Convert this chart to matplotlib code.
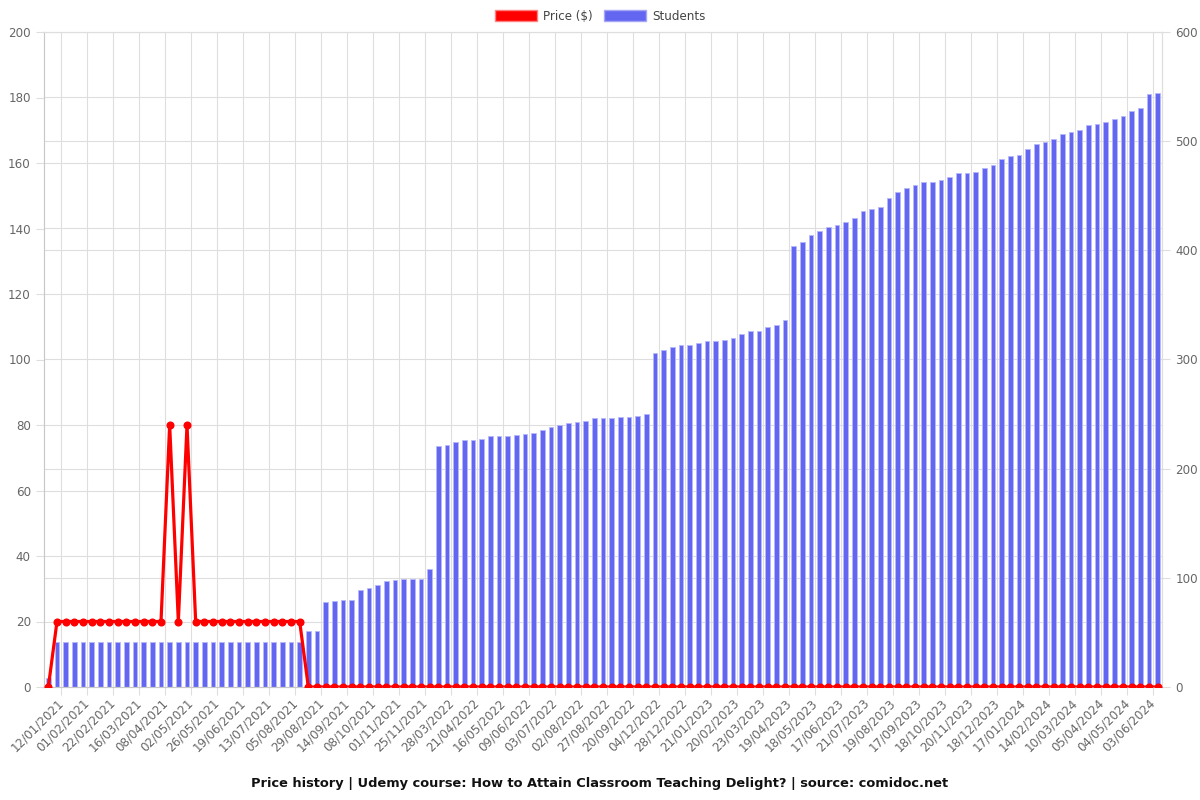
import numpy as np
import matplotlib
matplotlib.use("Agg")
import matplotlib.pyplot as plt
from matplotlib.patches import Patch

# one value per snapshot (129 of them)
students = [8,
            41, 41, 41, 41, 41, 41, 41, 41, 41, 41, 41, 41, 41, 41, 41,
            41, 41, 41, 41, 41, 41, 41, 41, 41, 41, 41, 41, 41, 41,
            51, 51,
            78, 79, 80, 80, 89, 91, 93, 97, 98, 99, 99, 99, 108,
            221, 222, 224, 226, 226, 227, 230, 230, 230, 231, 232, 233, 235,
            238, 240, 242, 243, 244, 246, 246, 246, 247, 247, 248, 250,
            306, 309, 311, 313, 313, 315, 317, 317, 318, 320, 323, 326, 326,
            330, 332, 336,
            404, 408, 414, 418, 421, 423, 426, 430, 436, 438,
            440, 448, 453, 457, 460, 463, 463, 464, 467, 471, 471, 472, 475,
            478, 484, 486, 487, 493, 497, 499, 502, 507, 508, 510, 515, 516,
            518, 520, 523, 528, 530, 543, 544]

price = [0,
         20, 20, 20, 20, 20, 20, 20, 20, 20, 20, 20, 20, 20,
         80, 20, 80,
         20, 20, 20, 20, 20, 20, 20, 20, 20, 20, 20, 20, 20,
         0, 0, 0, 0, 0, 0, 0, 0, 0, 0, 0, 0, 0, 0, 0, 0, 0, 0, 0, 0,
         0, 0, 0, 0, 0, 0, 0, 0, 0, 0, 0, 0, 0, 0, 0, 0, 0, 0, 0, 0,
         0, 0, 0, 0, 0, 0, 0, 0, 0, 0, 0, 0, 0, 0, 0, 0, 0, 0, 0, 0,
         0, 0, 0, 0, 0, 0, 0, 0, 0, 0, 0, 0, 0, 0, 0, 0, 0, 0, 0, 0,
         0, 0, 0, 0, 0, 0, 0, 0, 0, 0, 0, 0, 0, 0, 0, 0, 0, 0, 0]

# only every third date is shown on the axis
tick_labels = ["12/01/2021", "01/02/2021", "22/02/2021", "16/03/2021", "08/04/2021",
               "02/05/2021", "26/05/2021", "19/06/2021", "13/07/2021", "05/08/2021",
               "29/08/2021", "14/09/2021", "08/10/2021", "01/11/2021", "25/11/2021",
               "28/03/2022", "21/04/2022", "16/05/2022", "09/06/2022", "03/07/2022",
               "02/08/2022", "27/08/2022", "20/09/2022", "04/12/2022", "28/12/2022",
               "21/01/2023", "20/02/2023", "23/03/2023", "19/04/2023", "18/05/2023",
               "17/06/2023", "21/07/2023", "19/08/2023", "17/09/2023", "18/10/2023",
               "20/11/2023", "18/12/2023", "17/01/2024", "14/02/2024", "10/03/2024",
               "05/04/2024", "04/05/2024", "03/06/2024"]

title = "Price history | Udemy course: How to Attain Classroom Teaching Delight? | source: comidoc.net"

bar_col = "#6366f1"
line_col = "#ff0000"
grid_col = "#dedede"
txt_col = "#666666"

x = np.arange(len(students))

fig = plt.figure(figsize=(12, 8), dpi=100)
ax = fig.add_axes([44 / 1200, 1 - 687 / 800, 1118 / 1200, 655 / 800])
ax2 = ax.twinx()

# bars on the right (students) axis, below the price line
ax2.bar(x, students, width=0.55, color=bar_col, edgecolor="#b8b9fa", linewidth=0.6, zorder=2)
ax2.set_ylim(0, 600)
ax2.set_yticks(np.arange(0, 601, 100))
ax2.set_yticks(np.arange(0, 601, 60), minor=True)
ax2.set_axisbelow(True)
ax2.grid(True, which="both", axis="y", color=grid_col, linewidth=0.8)
ax2.tick_params(axis="y", which="major", colors=grid_col, labelcolor=txt_col,
                labelsize=8.6, length=6, width=0.8)
ax2.tick_params(axis="y", which="minor", length=0)

# vertical grid between every third category (twin x axis is hidden)
for gx in np.arange(1.5, len(x), 3):
    ax2.axvline(gx, color=grid_col, linewidth=0.8, zorder=0.5)

ax.set_zorder(ax2.get_zorder() + 1)
ax.patch.set_visible(False)
ax.plot(x, price, color=line_col, linewidth=2.3, marker="o", markersize=4.8, zorder=5)
ax.set_ylim(0, 200)
ax.set_yticks(np.arange(0, 201, 20))
ax.tick_params(axis="y", colors=grid_col, labelcolor=txt_col, labelsize=8.6, length=6, width=0.8)

ax.set_xlim(-0.5, len(x) - 0.5)
ax.set_xticks(np.arange(1, len(x), 3))
ax.set_xticklabels(tick_labels, rotation=45, ha="right", va="top",
                   rotation_mode="anchor", color=txt_col, fontsize=8.6)
ax.tick_params(axis="x", which="major", length=0, pad=7)
ax.set_xticks(np.arange(1.5, len(x), 3), minor=True)
ax.tick_params(axis="x", which="minor", length=6, color=grid_col, width=0.8)

for a in (ax, ax2):
    for s in a.spines.values():
        s.set_color(grid_col)
        s.set_linewidth(0.8)
ax.spines["left"].set_color("#c8c8c8")
ax.spines["bottom"].set_color("#c8c8c8")

handles = [Patch(facecolor=line_col, edgecolor="#ff8080", linewidth=1),
           Patch(facecolor=bar_col, edgecolor="#a5a6f6", linewidth=1)]
fig.legend(handles, ["Price ($)", "Students"], loc="center", bbox_to_anchor=(0.5, 1 - 16 / 800),
           ncol=2, frameon=False, fontsize=8.6, handlelength=3.5, handleheight=1.1,
           handletextpad=0.5, columnspacing=1.0, labelcolor="#444444")

fig.text(0.5, 1 - 783 / 800, title, ha="center", va="center", fontsize=9.4,
         fontweight="bold", color="#111111")

fig.savefig("out.png", dpi=100)
